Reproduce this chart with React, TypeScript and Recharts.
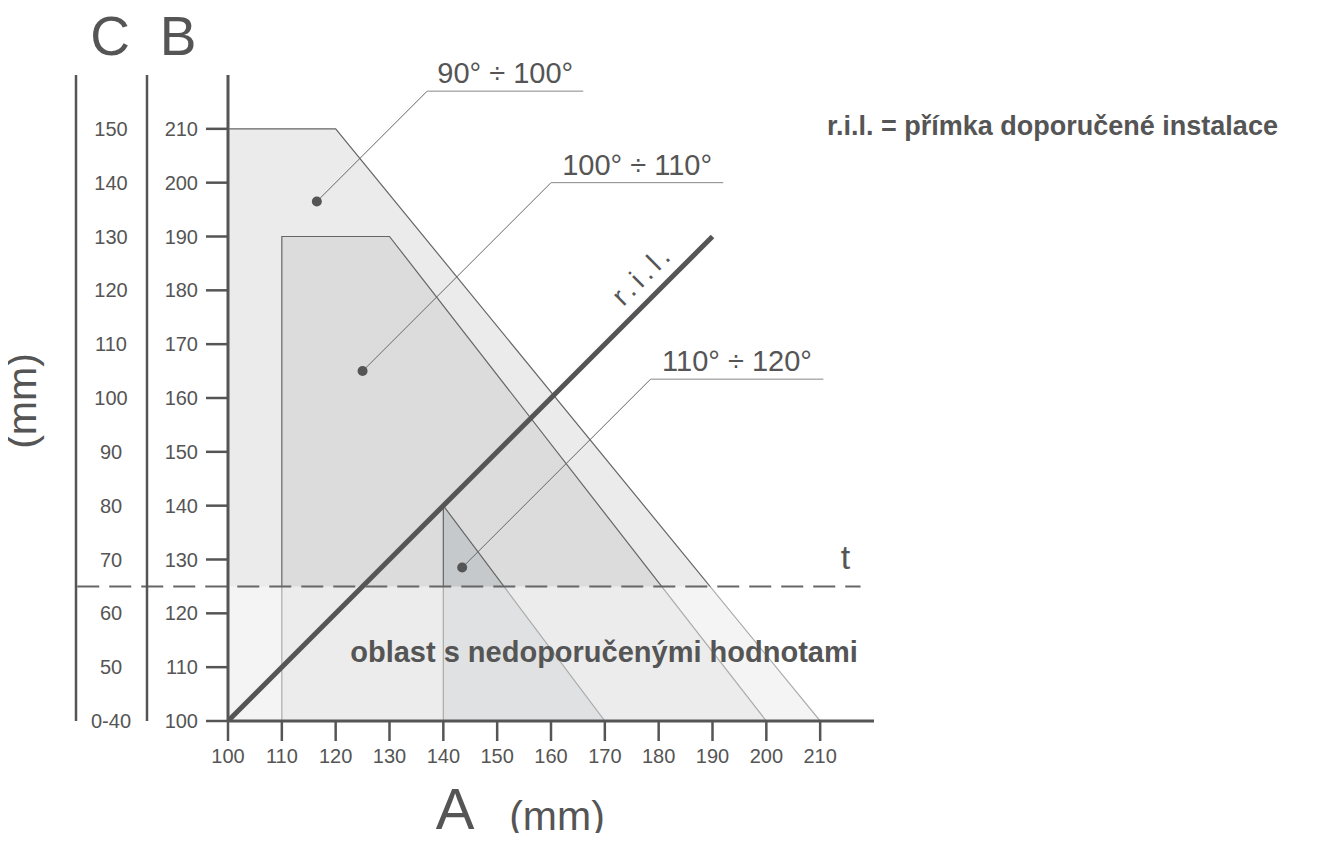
import React from "react";
import {
  ComposedChart,
  Area,
  Line,
  XAxis,
  YAxis,
  ReferenceLine,
  ReferenceDot,
} from "recharts";

const aTicks = [100, 110, 120, 130, 140, 150, 160, 170, 180, 190, 200, 210];
const bTicks = [100, 110, 120, 130, 140, 150, 160, 170, 180, 190, 200, 210];
const cLabels = ["0-40", "50", "60", "70", "80", "90", "100", "110", "120", "130", "140", "150"];

// zone outlines (A, B) in mm
const zone90 = [
  { a: 100, b: 210 },
  { a: 120, b: 210 },
  { a: 210, b: 100 },
];
const zone100 = [
  { a: 110, b: 100 },
  { a: 110, b: 190 },
  { a: 130, b: 190 },
  { a: 200, b: 100 },
];
const zone110 = [
  { a: 140, b: 100 },
  { a: 140, b: 140 },
  { a: 170, b: 100 },
];
// area below t (not recommended)
const belowT = [
  { a: 100, b: 125 },
  { a: 210, b: 125 },
];
const ril = [
  { a: 100, b: 100 },
  { a: 190, b: 190 },
];
const tLine = { b: 125, from: 72, to: 217.5 };
const rilLabelAt = { a: 177, b: 183 };

const callouts = [
  { text: "90° ÷ 100°", dot: [116.5, 196.5], knee: [137, 217], end: 166 },
  { text: "100° ÷ 110°", dot: [125, 165], knee: [160, 200], end: 192 },
  { text: "110° ÷ 120°", dot: [143.5, 128.5], knee: [178.5, 163.5], end: 210.6 },
];

const INK = "#555";
const FONT = "'Liberation Sans', Arial, sans-serif";

export default function App() {
  return (
    <div style={{ position: "relative", width: 1322, height: 825, fontFamily: FONT }}>
      <ComposedChart
        width={1322}
        height={825}
        margin={{ top: 67, right: 456, bottom: 52, left: 0 }}
      >
        <XAxis
          dataKey="a"
          type="number"
          domain={[100, 220]}
          ticks={aTicks}
          allowDataOverflow
          height={60}
          tickSize={20}
          tickMargin={8}
          axisLine={{ stroke: INK, strokeWidth: 3 }}
          tickLine={{ stroke: INK, strokeWidth: 2.5 }}
          tick={{ fill: INK, fontSize: 20 }}
        />
        <YAxis
          yAxisId="b"
          type="number"
          domain={[100, 220]}
          ticks={bTicks}
          allowDataOverflow
          width={81}
          tickSize={22}
          tickMargin={8}
          axisLine={{ stroke: INK, strokeWidth: 3 }}
          tickLine={{ stroke: INK, strokeWidth: 2.5 }}
          tick={{ fill: INK, fontSize: 20 }}
        />
        <YAxis
          yAxisId="c"
          type="number"
          domain={[100, 220]}
          ticks={bTicks}
          allowDataOverflow
          width={71}
          tickSize={0}
          tickMargin={36}
          tickLine={false}
          axisLine={{ stroke: INK, strokeWidth: 2.5 }}
          tickFormatter={(v: number) => cLabels[bTicks.indexOf(v)]}
          tick={{ fill: INK, fontSize: 20, textAnchor: "middle" }}
        />
        <YAxis
          yAxisId="cline"
          type="number"
          domain={[100, 220]}
          allowDataOverflow
          width={68}
          tick={false}
          tickLine={false}
          axisLine={{ stroke: INK, strokeWidth: 2.5 }}
        />

        <Area
          yAxisId="b"
          data={zone90}
          dataKey="b"
          type="linear"
          stroke="#666"
          strokeWidth={1.2}
          fill="#ebebeb"
          fillOpacity={1}
          dot={false}
          activeDot={false}
          isAnimationActive={false}
        />
        <Area
          yAxisId="b"
          data={zone100}
          dataKey="b"
          type="linear"
          stroke="#666"
          strokeWidth={1.2}
          fill="#dcdcdc"
          fillOpacity={1}
          dot={false}
          activeDot={false}
          isAnimationActive={false}
        />
        <Area
          yAxisId="b"
          data={zone110}
          dataKey="b"
          type="linear"
          stroke="#666"
          strokeWidth={1.2}
          fill="#c6c9cb"
          fillOpacity={1}
          dot={false}
          activeDot={false}
          isAnimationActive={false}
        />
        <Area
          yAxisId="b"
          data={belowT}
          dataKey="b"
          type="linear"
          stroke="none"
          fill="#ffffff"
          fillOpacity={0.45}
          dot={false}
          activeDot={false}
          isAnimationActive={false}
        />
        <Line
          yAxisId="b"
          data={ril}
          dataKey="b"
          type="linear"
          stroke={INK}
          strokeWidth={5}
          dot={false}
          activeDot={false}
          isAnimationActive={false}
        />

        <ReferenceLine
          yAxisId="b"
          ifOverflow="visible"
          segment={[
            { x: tLine.from, y: tLine.b },
            { x: tLine.to, y: tLine.b },
          ]}
          stroke="#666"
          strokeWidth={2}
          strokeDasharray="22 10"
          label={(p: any) => {
            const vb = p.viewBox || {};
            return (
              <text
                x={vb.x + vb.width - 15}
                y={vb.y - 17}
                fill={INK}
                fontSize={34}
                textAnchor="middle"
              >
                t
              </text>
            );
          }}
        />

        {callouts.map((c) => (
          <ReferenceLine
            key={c.text + "-lead"}
            yAxisId="b"
            ifOverflow="visible"
            segment={[
              { x: c.dot[0], y: c.dot[1] },
              { x: c.knee[0], y: c.knee[1] },
            ]}
            stroke="#666"
            strokeWidth={1}
          />
        ))}
        {callouts.map((c) => (
          <ReferenceLine
            key={c.text + "-under"}
            yAxisId="b"
            ifOverflow="visible"
            segment={[
              { x: c.knee[0], y: c.knee[1] },
              { x: c.end, y: c.knee[1] },
            ]}
            stroke="#888"
            strokeWidth={1}
            label={{ value: c.text, position: "top", offset: 8, fill: INK, fontSize: 29 }}
          />
        ))}
        {callouts.map((c) => (
          <ReferenceDot
            key={c.text + "-dot"}
            yAxisId="b"
            x={c.dot[0]}
            y={c.dot[1]}
            r={5}
            fill={INK}
            stroke="none"
            ifOverflow="visible"
          />
        ))}
        <ReferenceDot
          yAxisId="b"
          x={rilLabelAt.a}
          y={rilLabelAt.b}
          r={0}
          stroke="none"
          fill="none"
          ifOverflow="visible"
          label={(p: any) => {
            const vb = p.viewBox || {};
            const cx = vb.x + (vb.width || 0) / 2;
            const cy = vb.y + (vb.height || 0) / 2;
            return (
              <text
                x={cx}
                y={cy}
                fill={INK}
                fontSize={28}
                letterSpacing={5}
                textAnchor="middle"
                dominantBaseline="central"
                transform={`rotate(-45 ${cx} ${cy})`}
              >
                r.i.l.
              </text>
            );
          }}
        />
      </ComposedChart>

      <svg
        width={1338}
        height={841}
        style={{ position: "absolute", left: -8, top: -8, pointerEvents: "none", overflow: "visible" }}
      >
        <g fill={INK} fontFamily={FONT}>
          <text x={110} y={55} fontSize={55} textAnchor="middle">C</text>
          <text x={178} y={55} fontSize={55} textAnchor="middle">B</text>
          <text x={36} y={401} fontSize={41} textAnchor="middle" transform="rotate(-90 36 401)">
            (mm)
          </text>
          <text x={455} y={829} fontSize={58} textAnchor="middle">A</text>
          <text x={557} y={830} fontSize={41} textAnchor="middle">(mm)</text>
          <text x={827} y={135} fontSize={27} fontWeight="bold">
            r.i.l. = přímka doporučené instalace
          </text>
          <text x={604} y={662} fontSize={29} fontWeight="bold" textAnchor="middle">
            oblast s nedoporučenými hodnotami
          </text>
        </g>
      </svg>
    </div>
  );
}
